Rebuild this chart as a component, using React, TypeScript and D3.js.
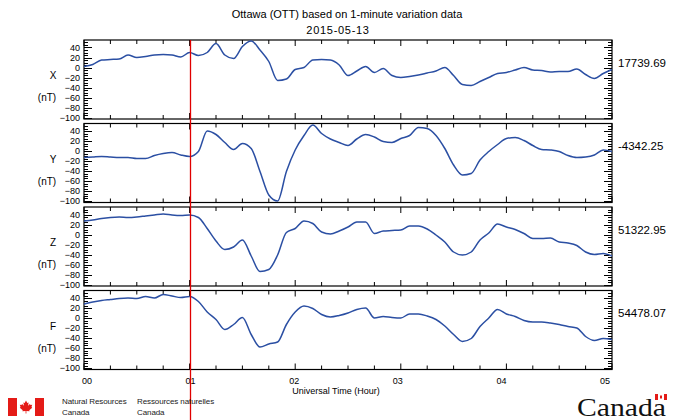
import { useEffect, useRef } from "react"
import * as d3 from "d3"

// Chart data
const components = ["X", "Y", "Z", "F"]
const baselineLabels = ["17739.69", "-4342.25", "51322.95", "54478.07"]
const minutes = d3.range(0, 301, 5)
const xValues = [
    2, 6, 15, 16, 17, 25, 20, 22, 25, 26, 25, 21, 30, 24, 30, 48, 25, 18, 42, 53, 35, 12, -26, -23, -4, 0, 15, 16, 15, 5,
    -16, -7, 2, -10, -2, -16, -20, -18, -15, -11, -7, 0, -16, -34, -36, -28, -20, -12, -10, -5, 0, -5, -6, -9, -8, -8, -3, -14, -22, -12, -4
]
const yValues = [
    -13, -12, -11, -12, -13, -13, -15, -15, -9, -5, -3, -8, -11, -1, 40, 33, 17, 3, 15, 5, -41, -88, -100, -41, 2, 31, 52, 35, 24, 17,
    11, 24, 33, 28, 19, 17, 25, 31, 47, 45, 31, 5, -28, -48, -45, -18, -1, 13, 25, 27, 21, 11, 3, 2, -1, -9, -13, -12, -8, 2, -1
]
const zValues = [
    27, 29, 32, 34, 35, 34, 35, 37, 39, 41, 39, 38, 39, 34, 12, -13, -30, -25, -11, -43, -74, -70, -41, 4, 12, 27, 22, 5, 1, 7,
    15, 25, 25, 2, 7, 8, 9, 17, 17, 11, -1, -15, -35, -41, -35, -11, 3, 21, 15, 10, 2, -8, -8, -7, -15, -17, -22, -35, -40, -38, -43
]
const fValues = [
    28, 32, 35, 37, 39, 40, 39, 43, 40, 47, 44, 41, 43, 33, 12, -3, -23, -13, 1, -33, -58, -52, -48, -13, 12, 24, 19, 7, 2, 5,
    10, 17, 20, 0, 3, 1, 0, 8, 8, 4, -3, -16, -33, -47, -41, -17, 0, 17, 8, 3, -5, -8, -8, -10, -13, -17, -20, -37, -45, -41, -43
]
const hourLabels = ["00", "01", "02", "03", "04", "05"]
const yTickValues = [40, 20, 0, -20, -40, -60, -80, -100]
const eventMinute = 60

const W = 673
const H = 420

export default function App() {
    const svgRef = useRef<SVGSVGElement>(null)

    useEffect(() => {
        const svg = d3.select(svgRef.current)
        svg.selectAll("*").remove()

        const series = [xValues, yValues, zValues, fValues]
        const left = 84
        const right = 612
        const panelH = 79
        const panelStep = 83.5
        const firstTop = 40
        const font = "'Liberation Sans', Arial, sans-serif"

        const xScale = d3.scaleLinear().domain([0, 300]).range([left, right])

        svg.append("rect").attr("width", W).attr("height", H).attr("fill", "#fff")

        // Title
        svg.append("text")
            .attr("x", 347).attr("y", 18)
            .attr("text-anchor", "middle")
            .style("font", `11px ${font}`)
            .text("Ottawa (OTT) based on 1-minute variation data")
        svg.append("text")
            .attr("x", 338).attr("y", 34)
            .attr("text-anchor", "middle")
            .style("font", `11px ${font}`)
            .style("letter-spacing", "0.7px")
            .text("2015-05-13")

        const fmt = d3.format("d")

        series.forEach((values, i) => {
            const top = firstTop + i * panelStep
            const bottom = top + panelH
            const yScale = d3.scaleLinear().domain([-103, 55]).range([bottom, top])
            const g = svg.append("g")

            // x ticks every 15 min, top & bottom
            d3.range(0, 301, 15).forEach(m => {
                const len = m % 60 === 0 ? 6 : 4
                const x = xScale(m)
                g.append("line").attr("x1", x).attr("x2", x).attr("y1", bottom).attr("y2", bottom - len)
                    .attr("stroke", "#000").attr("stroke-width", 1)
                g.append("line").attr("x1", x).attr("x2", x).attr("y1", top).attr("y2", top + len)
                    .attr("stroke", "#000").attr("stroke-width", 1)
            })

            // y ticks: major each 20, minor each 5
            d3.range(-100, 51, 5).forEach(v => {
                const major = v % 20 === 0 && v <= 40
                const len = major ? 8 : 4
                const y = Math.round(yScale(v)) + 0.5
                g.append("line").attr("x1", left).attr("x2", left + len).attr("y1", y).attr("y2", y)
                    .attr("stroke", "#000").attr("stroke-width", 1)
                g.append("line").attr("x1", right).attr("x2", right - len).attr("y1", y).attr("y2", y)
                    .attr("stroke", "#000").attr("stroke-width", 1)
            })

            yTickValues.forEach(v => {
                g.append("text")
                    .attr("x", 80).attr("y", yScale(v) + 3)
                    .attr("text-anchor", "end")
                    .style("font", `9px ${font}`)
                    .text(fmt(v))
            })

            g.append("rect")
                .attr("x", left).attr("y", top)
                .attr("width", right - left).attr("height", panelH)
                .attr("fill", "none").attr("stroke", "#000").attr("stroke-width", 1.2)

            const line = d3.line<number>()
                .x((_, k) => xScale(minutes[k]))
                .y(d => yScale(d))
                .curve(d3.curveMonotoneX)

            g.append("path")
                .datum(values)
                .attr("d", line)
                .attr("fill", "none")
                .attr("stroke", "#2b4fa3")
                .attr("stroke-width", 1.5)
                .attr("stroke-linejoin", "round")

            // component label
            g.append("text")
                .attr("x", 53).attr("y", top + 39)
                .attr("text-anchor", "middle")
                .style("font", `10px ${font}`)
                .text(components[i])
            g.append("text")
                .attr("x", 47).attr("y", top + 61)
                .attr("text-anchor", "middle")
                .style("font", `10px ${font}`)
                .text("(nT)")

            g.append("text")
                .attr("x", 618).attr("y", yScale(0) - 1)
                .style("font", `11.5px ${font}`)
                .text(baselineLabels[i])
        })

        // hour labels
        hourLabels.forEach((lab, h) => {
            svg.append("text")
                .attr("x", xScale(h * 60) + 3 - h * 2).attr("y", 384)
                .attr("text-anchor", "middle")
                .style("font", `9px ${font}`)
                .text(lab)
        })
        svg.append("text")
            .attr("x", 336).attr("y", 394)
            .attr("text-anchor", "middle")
            .style("font", `9px ${font}`)
            .text("Universal Time (Hour)")

        // event marker
        const ex = Math.round(xScale(eventMinute)) + 0.5
        svg.append("line")
            .attr("x1", ex).attr("x2", ex)
            .attr("y1", firstTop).attr("y2", H)
            .attr("stroke", "#e00000").attr("stroke-width", 1.3)

        // footer: flag
        const flag = svg.append("g").attr("transform", "translate(8,398)")
        flag.append("rect").attr("width", 9).attr("height", 18).attr("fill", "#e41b17")
        flag.append("rect").attr("x", 27).attr("width", 9).attr("height", 18).attr("fill", "#e41b17")
        const leaf: [number, number][] = [
            [0, -5], [1, -3], [2, -3.5], [1.6, -1], [3, -2.3], [3.5, -1.5], [4.8, -1.8], [4.2, 0], [4.8, 0.5],
            [2.5, 2.5], [2.8, 3.3], [0.3, 3], [0.3, 5], [-0.3, 5], [-0.3, 3], [-2.8, 3.3], [-2.5, 2.5],
            [-4.8, 0.5], [-4.2, 0], [-4.8, -1.8], [-3.5, -1.5], [-3, -2.3], [-1.6, -1], [-2, -3.5], [-1, -3]
        ]
        flag.append("polygon")
            .attr("points", leaf.map(([a, b]) => `${18 + a * 1.3},${9 + b * 1.3}`).join(" "))
            .attr("fill", "#e41b17")

        const foot = [
            { x: 62, lines: ["Natural Resources", "Canada"] },
            { x: 137, lines: ["Ressources naturelles", "Canada"] }
        ]
        foot.forEach(f => {
            f.lines.forEach((t, k) => {
                svg.append("text")
                    .attr("x", f.x).attr("y", 404 + k * 11)
                    .style("font", `8px ${font}`)
                    .style("letter-spacing", "-0.1px")
                    .attr("fill", "#222")
                    .text(t)
            })
        })

        // Canada wordmark
        svg.append("text")
            .attr("x", 577).attr("y", 416)
            .style("font", "25px 'Liberation Serif', 'DejaVu Serif', serif")
            .attr("fill", "#111")
            .attr("textLength", 89)
            .attr("lengthAdjust", "spacingAndGlyphs")
            .text("Canada")
        const mini = svg.append("g").attr("transform", "translate(655,394)")
        mini.append("rect").attr("width", 3).attr("height", 6).attr("fill", "#e41b17")
        mini.append("rect").attr("x", 9).attr("width", 3).attr("height", 6).attr("fill", "#e41b17")
        mini.append("rect").attr("x", 5).attr("y", 1.5).attr("width", 2).attr("height", 3).attr("fill", "#e41b17")
    }, [])

    return (
        <svg
            ref={svgRef}
            width={W}
            height={H}
            style={{ position: "absolute", left: 0, top: 0, display: "block" }}
        />
    )
}
